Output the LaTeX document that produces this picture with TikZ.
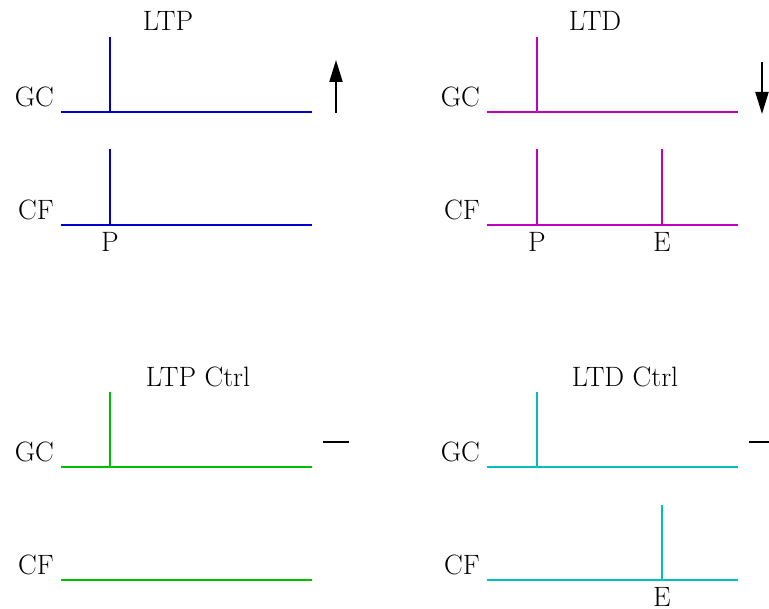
\documentclass[tikz,border=0pt]{standalone}
\usetikzlibrary{arrows.meta}
\definecolor{ltpblue}{RGB}{0,0,205}
\definecolor{ltdmag}{RGB}{191,0,191}
\definecolor{ctrlgreen}{RGB}{0,191,0}
\definecolor{ctrlcyan}{RGB}{0,191,191}
\tikzset{
  trace/.style={line width=2pt},
  lbl/.style={inner sep=0pt, text=black, font=\fontsize{28}{32}\selectfont},
  rowlbl/.style={lbl, anchor=base east},
  evlbl/.style={lbl, anchor=base},
  ttl/.style={lbl, anchor=base},
  change/.style={line width=2pt, -{Triangle[length=22pt,width=13pt]}},
  nochange/.style={line width=2pt}
}
\begin{document}
\begin{tikzpicture}[x=1pt,y=-1pt]
\useasboundingbox (0,0) rectangle (769,609);
\clip (0,0) rectangle (769,609);

% ---------- LTP (top left) ----------
\begin{scope}[ltpblue]
  \node[ttl] (ltp-t) at (168,31) {LTP};
  \node[rowlbl] (ltp-gc) at (54,107) {GC};
  \node[rowlbl] (ltp-cf) at (54,220) {CF};
  \coordinate (ltp-gc0) at (61,112);  \coordinate (ltp-gc1) at (312,112);
  \coordinate (ltp-cf0) at (61,225);  \coordinate (ltp-cf1) at (312,225);
  \coordinate (ltp-gs0) at (110,112); \coordinate (ltp-gs1) at (110,37);
  \coordinate (ltp-cs0) at (110,225); \coordinate (ltp-cs1) at (110,149);
  \draw[trace] (ltp-gc0) -- (ltp-gc1);
  \draw[trace] (ltp-cf0) -- (ltp-cf1);
  \draw[trace] (ltp-gs0) -- (ltp-gs1);
  \draw[trace] (ltp-cs0) -- (ltp-cs1);
  \node[evlbl] (ltp-p) at (110,252) {P};
\end{scope}
\coordinate (up0) at (336,113); \coordinate (up1) at (336,60);
\draw[change] (up0) -- (up1);

% ---------- LTD (top right) ----------
\begin{scope}[ltdmag]
  \node[ttl] (ltd-t) at (595,31) {LTD};
  \node[rowlbl] (ltd-gc) at (480,107) {GC};
  \node[rowlbl] (ltd-cf) at (480,220) {CF};
  \coordinate (ltd-gc0) at (487,112); \coordinate (ltd-gc1) at (738,112);
  \coordinate (ltd-cf0) at (487,225); \coordinate (ltd-cf1) at (738,225);
  \coordinate (ltd-gs0) at (537,112); \coordinate (ltd-gs1) at (537,37);
  \coordinate (ltd-ps0) at (537,225); \coordinate (ltd-ps1) at (537,149);
  \coordinate (ltd-es0) at (662,225); \coordinate (ltd-es1) at (662,149);
  \draw[trace] (ltd-gc0) -- (ltd-gc1);
  \draw[trace] (ltd-cf0) -- (ltd-cf1);
  \draw[trace] (ltd-gs0) -- (ltd-gs1);
  \draw[trace] (ltd-ps0) -- (ltd-ps1);
  \draw[trace] (ltd-es0) -- (ltd-es1);
  \node[evlbl] (ltd-p) at (537,252) {P};
  \node[evlbl] (ltd-e) at (662,252) {E};
\end{scope}
\coordinate (dn0) at (762,62); \coordinate (dn1) at (762,114);
\draw[change] (dn0) -- (dn1);

% ---------- LTP Ctrl (bottom left) ----------
\begin{scope}[ctrlgreen]
  \node[ttl] (ltpc-t) at (198,387) {LTP Ctrl};
  \node[rowlbl] (ltpc-gc) at (54,462) {GC};
  \node[rowlbl] (ltpc-cf) at (54,575) {CF};
  \coordinate (ltpc-gc0) at (61,467);  \coordinate (ltpc-gc1) at (312,467);
  \coordinate (ltpc-cf0) at (61,580);  \coordinate (ltpc-cf1) at (312,580);
  \coordinate (ltpc-gs0) at (110,467); \coordinate (ltpc-gs1) at (110,392);
  \draw[trace] (ltpc-gc0) -- (ltpc-gc1);
  \draw[trace] (ltpc-cf0) -- (ltpc-cf1);
  \draw[trace] (ltpc-gs0) -- (ltpc-gs1);
\end{scope}
\coordinate (ltpc-d0) at (323,442); \coordinate (ltpc-d1) at (349,442);
\draw[nochange] (ltpc-d0) -- (ltpc-d1);

% ---------- LTD Ctrl (bottom right) ----------
\begin{scope}[ctrlcyan]
  \node[ttl] (ltdc-t) at (625,387) {LTD Ctrl};
  \node[rowlbl] (ltdc-gc) at (480,462) {GC};
  \node[rowlbl] (ltdc-cf) at (480,575) {CF};
  \coordinate (ltdc-gc0) at (487,467); \coordinate (ltdc-gc1) at (738,467);
  \coordinate (ltdc-cf0) at (487,580); \coordinate (ltdc-cf1) at (738,580);
  \coordinate (ltdc-gs0) at (537,467); \coordinate (ltdc-gs1) at (537,392);
  \coordinate (ltdc-es0) at (662,580); \coordinate (ltdc-es1) at (662,505);
  \draw[trace] (ltdc-gc0) -- (ltdc-gc1);
  \draw[trace] (ltdc-cf0) -- (ltdc-cf1);
  \draw[trace] (ltdc-gs0) -- (ltdc-gs1);
  \draw[trace] (ltdc-es0) -- (ltdc-es1);
  \node[evlbl] (ltdc-e) at (662,606) {E};
\end{scope}
\coordinate (ltdc-d0) at (749,442); \coordinate (ltdc-d1) at (775,442);
\draw[nochange] (ltdc-d0) -- (ltdc-d1);
\end{tikzpicture}
\end{document}
